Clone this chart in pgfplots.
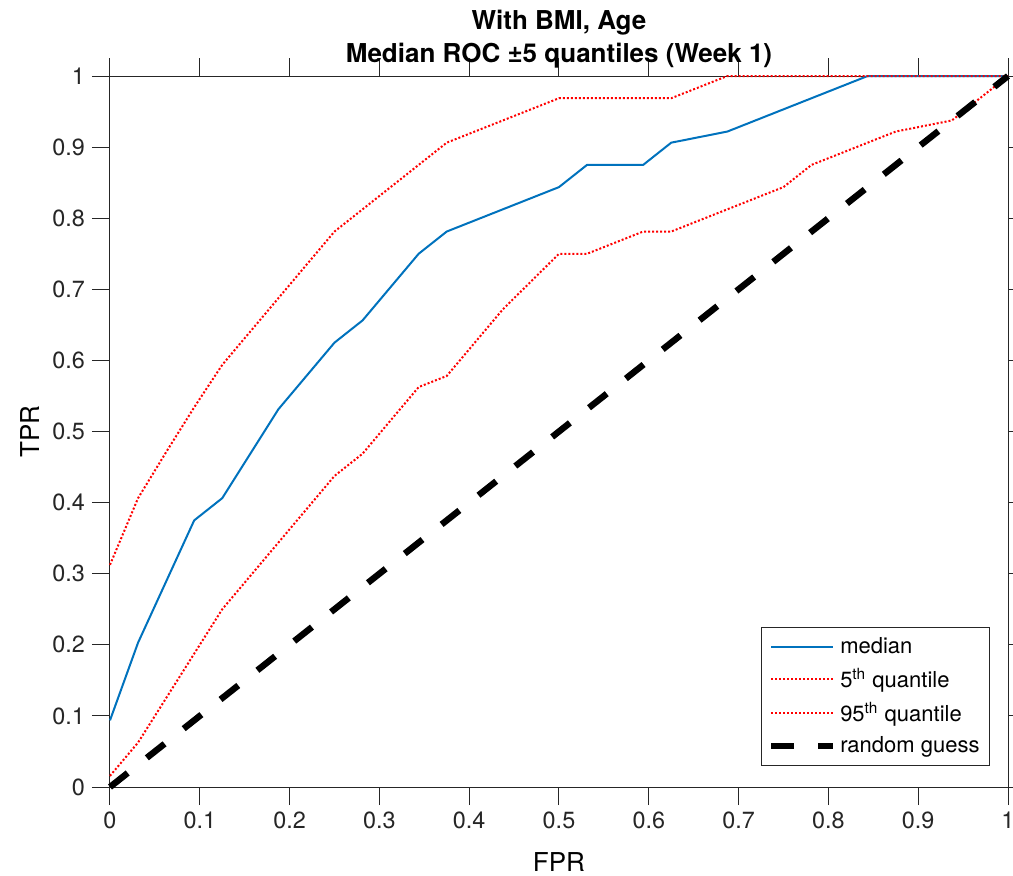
\documentclass[border=0pt]{standalone}
\usepackage{pgfplots}
\pgfplotsset{compat=1.18}
\usepackage{fontspec}
\setmainfont{TeX Gyre Heros}
\definecolor{mblue}{rgb}{0,0.447,0.741}
\definecolor{mred}{rgb}{1,0,0}
\definecolor{axgray}{gray}{0.15}
\begin{document}
\begin{tikzpicture}
\begin{axis}[
  scale only axis, width=449pt, height=355.5pt,
  xmin=0, xmax=1, ymin=0, ymax=1,
  xtick={0,0.1,0.2,0.3,0.4,0.5,0.6,0.7,0.8,0.9,1},
  ytick={0,0.1,0.2,0.3,0.4,0.5,0.6,0.7,0.8,0.9,1},
  tick align=outside, major tick length=9pt,
  axis line style={axgray, line width=0.5pt},
  tick style={axgray, line width=0.5pt},
  ticklabel style={font=\fontsize{11.7}{14}\selectfont, text=axgray},
  /pgf/number format/assume math mode=true,
  xlabel={FPR}, ylabel={TPR},
  label style={font=\fontsize{13}{15}\selectfont},
  xlabel style={at={(axis description cs:0.5,-0.119)}, anchor=base},
  ylabel style={at={(axis description cs:-0.0891,0.5)}, anchor=center},
  title={With BMI, Age\\Median ROC ±5 quantiles (Week 1)},
  title style={font=\bfseries\fontsize{13}{16.5}\selectfont, align=center,
    at={(axis description cs:0.5,1)}, anchor=south, yshift=-2.5pt, inner sep=0pt},
  legend style={at={(0.98,0.0295)}, anchor=south east, draw=axgray, line width=0.5pt,
    font=\fontsize{11}{13}\selectfont, inner xsep=3pt, inner ysep=3pt, row sep=2pt},
  legend cell align=left,
  legend image code/.code={\draw[#1] (0pt,0pt) -- (31pt,0pt);},
  clip=false,
]
\addplot[mblue, line width=1pt] coordinates {
(0,0.09375) (0.03125,0.203) (0.09375,0.375) (0.125,0.40625) (0.1875,0.53125)
(0.25,0.625) (0.28125,0.65625) (0.34375,0.75) (0.375,0.78125) (0.5,0.84375)
(0.53125,0.875) (0.59375,0.875) (0.625,0.90625) (0.6875,0.921875) (0.84375,1) (1,1)};
\addlegendentry{median}
\addplot[draw=mred, line width=1pt, dash pattern=on 1pt off 1pt] coordinates {
(0,0.3125) (0.03125,0.40625) (0.0625,0.471) (0.09375,0.534) (0.125,0.59375)
(0.1875,0.6875) (0.25,0.78125) (0.28125,0.8125) (0.375,0.90625) (0.5,0.96875)
(0.625,0.96875) (0.6875,1) (1,1)};
\addlegendentry{5\textsuperscript{th} quantile}
\addplot[draw=mred, line width=1pt, dash pattern=on 1pt off 1pt] coordinates {
(0,0.015625) (0.03125,0.0625) (0.125,0.25) (0.25,0.4375) (0.28125,0.46875)
(0.34375,0.5625) (0.375,0.578125) (0.4375,0.671875) (0.5,0.75) (0.53125,0.75)
(0.59375,0.78125) (0.625,0.78125) (0.75,0.84375) (0.78125,0.875) (0.875,0.921875)
(0.9375,0.9375) (1,1)};
\addlegendentry{95\textsuperscript{th} quantile}
\addplot[black, line width=3.2pt, dash pattern=on 11.3pt off 12.2pt] coordinates {(0,0) (1,1)};
\addlegendentry{random guess}
\coordinate (O) at (rel axis cs:0,0);
\end{axis}
\pgfresetboundingbox
\path ([shift={(-55pt,-44pt)}]O) rectangle ([shift={(451.5pt,393.5pt)}]O);
\end{tikzpicture}
\end{document}
